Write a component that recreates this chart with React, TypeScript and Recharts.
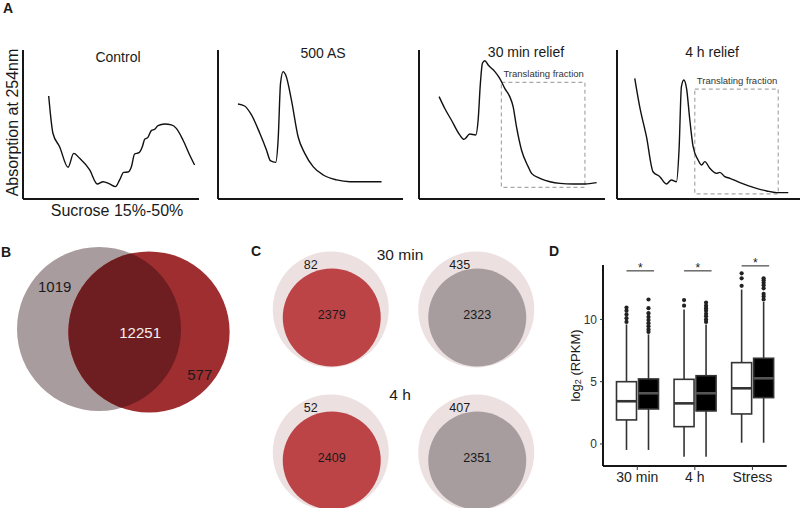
import {
  Bar,
  ComposedChart,
  Label,
  Line,
  LineChart,
  ReferenceArea,
  Scatter,
  ScatterChart,
  XAxis,
  YAxis,
  ZAxis,
} from "recharts";

const FONT = "'Liberation Sans', Arial, Helvetica, sans-serif";
const INK = "#1a1a1a";

// A — A254 traces: [position along gradient %, relative absorbance]
const controlTrace = [
  [14.6, 69.1], [15.5, 57.9], [17.0, 44.1], [20.8, 35.1], [25.6, 21.3], [28.8, 30.6],
  [32.2, 27.3], [37.9, 19.5], [42.2, 10.1], [45.5, 11.6], [49.2, 10.1], [52.5, 8.3],
  [54.9, 12.8], [57.2, 17.9], [59.7, 18.1], [61.6, 21.7], [63.4, 30.2], [65.9, 31.1],
  [67.8, 35.1], [69.1, 40.0], [71.0, 41.4], [72.9, 45.9], [74.8, 46.8], [76.7, 49.2],
  [80.5, 50.3], [84.3, 49.7], [87.1, 47.4], [90.9, 39.6], [94.7, 29.5], [97.5, 22.8],
];
const asTrace = [
  [10.8, 63.8], [14.4, 62.4], [18.1, 56.4], [22.6, 44.1], [26.2, 32.9], [28.3, 25.7],
  [31.2, 24.6], [32.5, 39.6], [33.8, 77.6], [35.2, 85.5], [36.6, 83.2], [39.7, 66.4],
  [43.3, 41.8], [46.9, 30.6], [51.4, 21.7], [56.9, 16.1], [64.1, 12.8], [71.3, 11.6],
  [80.3, 11.6], [88.4, 11.6],
];
const relief30Trace = [
  [10.8, 68.7], [13.8, 60.9], [17.4, 53.0], [21.9, 43.0], [24.2, 40.0], [27.3, 43.6],
  [30.5, 43.0], [31.8, 53.0], [33.0, 77.6], [34.1, 91.1], [35.4, 92.8], [37.2, 89.9],
  [40.8, 85.5], [43.4, 81.0], [46.1, 74.3], [48.8, 68.7], [50.6, 62.0], [52.4, 48.5],
  [55.1, 32.9], [58.7, 21.7], [60.5, 17.2], [65.0, 13.9], [70.4, 11.6], [75.8, 10.5],
  [82.9, 10.1], [89.2, 10.1], [95.5, 11.0],
];
const relief4hTrace = [
  [9.7, 81.0], [12.4, 62.0], [16.1, 41.8], [19.7, 18.3], [23.4, 15.0], [27.0, 10.1],
  [29.7, 12.8], [32.5, 11.6], [33.9, 32.9], [35.2, 75.4], [36.5, 79.9], [38.0, 74.3],
  [39.8, 53.0], [41.6, 35.1], [44.3, 26.2], [46.2, 22.8], [48.0, 25.1], [50.7, 20.6],
  [54.4, 17.2], [56.2, 17.9], [58.9, 15.0], [61.7, 13.9], [67.2, 11.0], [74.5, 7.8],
  [81.8, 5.4], [87.2, 4.3], [93.6, 4.3],
];
// translating fraction windows: [x1, x2, y1, y2]
const relief30Window = [44.3, 89.2, 7.8, 78.3];
const relief4hWindow = [42.5, 88.1, 3.4, 73.8];

// B — overlap of detected genes
const vennUnique = [1019, 577];
const vennShared = 12251;
const vennX = [-1, 1];
const vennY = [0.06, -0.06];

// C — per time point: [red set, grey set]
const cTimes = ["30 min", "4 h"];
const cUnique = [[82, 435], [52, 407]];
const cShared = [[2379, 2323], [2409, 2351]];

// D — log2(RPKM) box plots
const boxGroups = ["30 min", "4 h", "Stress"];
const openStats = [
  { min: -0.48, q1: 1.93, median: 3.43, q3: 5.0, max: 9.6, outliers: [9.8, 10.1, 10.4, 10.7, 10.95] },
  { min: -1.02, q1: 1.39, median: 3.26, q3: 5.19, max: 10.8, outliers: [11.1, 11.55] },
  { min: 0.1, q1: 2.41, median: 4.47, q3: 6.53, max: 12.4, outliers: [12.7, 13.3, 13.7] },
];
const filledStats = [
  { min: -0.48, q1: 2.81, median: 4.07, q3: 5.22, max: 8.8, outliers: [9.0, 9.2, 9.45, 9.7, 9.95, 10.2, 10.5, 10.9, 11.6] },
  { min: -1.02, q1: 2.65, median: 4.07, q3: 5.48, max: 9.6, outliers: [9.8, 10.0, 10.25, 10.45, 10.7, 10.9, 11.1, 11.35] },
  { min: 0.1, q1: 3.72, median: 5.27, q3: 6.88, max: 11.4, outliers: [11.6, 11.85, 12.05, 12.5, 12.75, 12.95, 13.15, 13.3] },
];
const sigHeights = [13.9, 13.9, 14.3];

const toPoints = (t: number[][]) => t.map(([x, y]) => ({ x, y }));

function Txt({ x, y, size = 14, weight = 400, color = INK, children }: any) {
  return (
    <div
      style={{
        position: "absolute",
        left: x,
        top: y,
        transform: "translate(-50%, -50%)",
        fontSize: size,
        fontWeight: weight,
        color,
        whiteSpace: "nowrap",
        lineHeight: 1,
      }}
    >
      {children}
    </div>
  );
}

const axisStroke = { stroke: "#161616", strokeWidth: 2 };

function Trace({ left, width, mL, mR, trace, window, axisLabels }: any) {
  return (
    <div style={{ position: "absolute", left, top: 30 }}>
      <LineChart width={width} height={195} data={toPoints(trace)} margin={{ top: 20, right: mR, left: mL - 1, bottom: 0 }}>
        <XAxis type="number" dataKey="x" domain={[0, 100]} tick={false} tickLine={false} height={26} axisLine={axisStroke}>
          {axisLabels && (
            <Label
              content={({ viewBox }: any) => (
                <text x={viewBox.x + viewBox.width / 2 + 6} y={viewBox.y + 11} textAnchor="middle" dominantBaseline="central" fontSize={16} fill={INK} fontFamily={FONT}>
                  Sucrose 15%-50%
                </text>
              )}
            />
          )}
        </XAxis>
        <YAxis type="number" domain={[0, 100]} tick={false} tickLine={false} width={1} axisLine={axisStroke}>
          {axisLabels && (
            <Label
              content={({ viewBox }: any) => {
                const cx = viewBox.x + viewBox.width - 11;
                const cy = viewBox.y + viewBox.height / 2 - 2;
                return (
                  <text x={cx} y={cy} transform={`rotate(-90 ${cx} ${cy})`} textAnchor="middle" dominantBaseline="central" fontSize={16} fill={INK} fontFamily={FONT}>
                    Absorption at 254nm
                  </text>
                );
              }}
            />
          )}
        </YAxis>
        {window && (
          <ReferenceArea x1={window[0]} x2={window[1]} y1={window[2]} y2={window[3]} fill="none" stroke="#a8a8a8" strokeWidth={1.2} strokeDasharray="4 3">
            <Label
              content={({ viewBox }: any) => (
                <text x={viewBox.x + 2} y={viewBox.y - 5} fontSize={9.5} fill="#333" fontFamily={FONT}>
                  Translating fraction
                </text>
              )}
            />
          </ReferenceArea>
        )}
        <Line dataKey="y" type="monotone" stroke="#111" strokeWidth={1.4} dot={false} isAnimationActive={false} />
      </LineChart>
    </div>
  );
}

function VennShape(props: any) {
  const { cx, cy, width, payload } = props;
  const r = width / 2;
  if (payload.idx === 0) {
    return (
      <g>
        <defs>
          <clipPath id="venn-grey-clip">
            <circle cx={cx} cy={cy} r={r} />
          </clipPath>
        </defs>
        <circle cx={cx} cy={cy} r={r} fill="#a99c9e" />
        <text x={cx - 0.54 * r} y={cy - 0.52 * r} textAnchor="middle" dominantBaseline="central" fontSize={15} fill={INK}>
          {payload.unique}
        </text>
      </g>
    );
  }
  return (
    <g>
      <circle cx={cx} cy={cy} r={r} fill="#9f2e31" />
      <circle cx={cx} cy={cy} r={r} fill="#6e1e20" clipPath="url(#venn-grey-clip)" />
      <text x={cx - 0.11 * r} y={cy} textAnchor="middle" dominantBaseline="central" fontSize={15} fill="#f2eeee">
        {payload.shared}
      </text>
      <text x={cx + 0.63 * r} y={cy + 0.53 * r} textAnchor="middle" dominantBaseline="central" fontSize={15} fill={INK}>
        {payload.unique}
      </text>
    </g>
  );
}

function OuterShape(props: any) {
  const { cx, cy, width, payload } = props;
  return (
    <g>
      <circle cx={cx} cy={cy} r={width / 2} fill="#ede0e1" />
      <text x={cx - 27} y={cy - 45} dominantBaseline="central" fontSize={12.5} fill={INK}>
        {payload.unique}
      </text>
    </g>
  );
}

function InnerShape(props: any) {
  const { cx, cy, width, payload } = props;
  const icx = cx + 1;
  const icy = cy + 8;
  return (
    <g>
      <circle cx={icx} cy={icy} r={width / 2} fill={payload.col === 0 ? "#bd4446" : "#a89d9e"} />
      <text x={icx} y={icy - 3} textAnchor="middle" dominantBaseline="central" fontSize={12.5} fill={INK}>
        {payload.shared}
      </text>
    </g>
  );
}

function BoxShape(props: any) {
  const { x, y, width, height, stats, filled, bracket } = props;
  const top = Math.min(y, y + height);
  const span = Math.abs(height);
  const py = (v: number) => top + ((stats.max - v) * span) / (stats.max - stats.min);
  const cx = x + width / 2;
  const edge = "#333";
  const bx2 = x + 2 * width + 2 - 4.5;
  return (
    <g>
      <line x1={cx} x2={cx} y1={py(stats.max)} y2={py(stats.min)} stroke={edge} strokeWidth={1.6} />
      <rect x={x} y={py(stats.q3)} width={width} height={py(stats.q1) - py(stats.q3)} fill={filled ? "#000" : "#fff"} stroke={edge} strokeWidth={1.6} />
      <line x1={x} x2={x + width} y1={py(stats.median)} y2={py(stats.median)} stroke={filled ? "#555" : "#333"} strokeWidth={2.6} />
      {stats.outliers.map((o: number, i: number) => (
        <circle key={i} cx={cx} cy={py(o)} r={2.1} fill="#222" />
      ))}
      {bracket != null && (
        <g>
          <line x1={cx} x2={bx2} y1={py(bracket)} y2={py(bracket)} stroke="#333" strokeWidth={1.1} />
          <text x={(cx + bx2) / 2} y={py(bracket) + 1} textAnchor="middle" fontSize={12} fill={INK}>
            *
          </text>
        </g>
      )}
    </g>
  );
}

export default function App() {
  const vennData = vennUnique.map((u, i) => ({
    idx: i,
    x: vennX[i],
    y: vennY[i],
    unique: u,
    shared: vennShared,
    total: u + vennShared,
  }));
  const cData = cTimes.flatMap((t, row) =>
    cUnique[row].map((u, col) => ({ time: t, row, col, unique: u, shared: cShared[row][col] }))
  );
  const boxData = boxGroups.map((g, i) => ({ group: g, open: openStats[i], filled: filledStats[i], sig: sigHeights[i] }));

  return (
    <div style={{ position: "relative", width: 800, height: 508, overflow: "hidden", background: "#fff", fontFamily: FONT, color: INK }}>
      <style>{`body{margin:0}`}</style>

      {/* A */}
      <Trace left={0} width={205} mL={23} mR={6} trace={controlTrace} axisLabels />
      <Trace left={210} width={200} mL={8} mR={7} trace={asTrace} />
      <Trace left={410} width={200} mL={9} mR={5} trace={relief30Trace} window={relief30Window} />
      <Trace left={610} width={190} mL={7} mR={0} trace={relief4hTrace} window={relief4hWindow} />

      {/* B */}
      <div style={{ position: "absolute", left: 0, top: 220 }}>
        <ScatterChart width={260} height={220} margin={{ top: 0, right: 0, left: 0, bottom: 0 }}>
          <XAxis type="number" dataKey="x" domain={[-4.96, 5.44]} hide />
          <YAxis type="number" dataKey="y" domain={[-4.38, 4.42]} hide />
          <ZAxis type="number" dataKey="total" domain={[0, 13270]} range={[0, 21124]} />
          <Scatter data={vennData} shape={(p: any) => <VennShape {...p} />} isAnimationActive={false} />
        </ScatterChart>
      </div>

      {/* C */}
      <div style={{ position: "absolute", left: 258, top: 238 }}>
        <ScatterChart width={291} height={286} margin={{ top: 0, right: 0, left: 0, bottom: 0 }}>
          <XAxis type="number" dataKey="col" domain={[-0.5, 1.5]} hide />
          <YAxis type="number" dataKey="row" domain={[-0.5, 1.5]} reversed hide />
          <ZAxis zAxisId="outer" type="number" dataKey="unique" range={[10568, 10568]} />
          <ZAxis zAxisId="inner" type="number" dataKey="shared" range={[7543, 7543]} />
          <Scatter zAxisId="outer" data={cData} shape={(p: any) => <OuterShape {...p} />} isAnimationActive={false} />
          <Scatter zAxisId="inner" data={cData} shape={(p: any) => <InnerShape {...p} />} isAnimationActive={false} />
        </ScatterChart>
      </div>

      {/* D */}
      <div style={{ position: "absolute", left: 560, top: 245 }}>
        <ComposedChart width={240} height={263} data={boxData} margin={{ top: 20, right: 13.3, left: 0, bottom: 12 }} barSize={20} barGap={2}>
          <XAxis
            dataKey="group"
            padding={{ left: 5.5, right: 5.5 }}
            tickSize={4}
            tickLine={{ stroke: "#333" }}
            axisLine={axisStroke}
            tick={{ fontSize: 14, fill: "#222" }}
            height={30}
            interval={0}
          />
          <YAxis
            type="number"
            domain={[-1.77, 14.37]}
            ticks={[0, 5, 10]}
            width={43}
            tickSize={3}
            tickMargin={3}
            tick={{ fontSize: 12, fill: "#333" }}
            tickLine={{ stroke: "#333" }}
            axisLine={axisStroke}
          >
            <Label
              content={({ viewBox }: any) => {
                const cx = viewBox.x + 15;
                const cy = viewBox.y + viewBox.height / 2;
                return (
                  <text x={cx} y={cy} transform={`rotate(-90 ${cx} ${cy})`} textAnchor="middle" dominantBaseline="central" fontSize={13} fill={INK} fontFamily={FONT}>
                    log
                    <tspan fontSize={9} dy={3}>2</tspan>
                    <tspan dy={-3}> (RPKM)</tspan>
                  </text>
                );
              }}
            />
          </YAxis>
          <Bar
            dataKey={(d: any) => [d.open.min, d.open.max]}
            shape={(p: any) => <BoxShape {...p} stats={p.payload.open} filled={false} bracket={p.payload.sig} />}
            isAnimationActive={false}
          />
          <Bar
            dataKey={(d: any) => [d.filled.min, d.filled.max]}
            shape={(p: any) => <BoxShape {...p} stats={p.payload.filled} filled bracket={null} />}
            isAnimationActive={false}
          />
        </ComposedChart>
      </div>

      {/* panel letters and titles */}
      <Txt x={8} y={8} size={14} weight={700}>A</Txt>
      <Txt x={6} y={252} size={14} weight={700}>B</Txt>
      <Txt x={256} y={251} size={14} weight={700}>C</Txt>
      <Txt x={554} y={251} size={14} weight={700}>D</Txt>
      <Txt x={118} y={57}>Control</Txt>
      <Txt x={323} y={53}>500 AS</Txt>
      <Txt x={526} y={52}>30 min relief</Txt>
      <Txt x={712} y={52}>4 h relief</Txt>
      <Txt x={400} y={255} size={15.5}>{cTimes[0]}</Txt>
      <Txt x={400} y={395} size={15.5}>{cTimes[1]}</Txt>
    </div>
  );
}
